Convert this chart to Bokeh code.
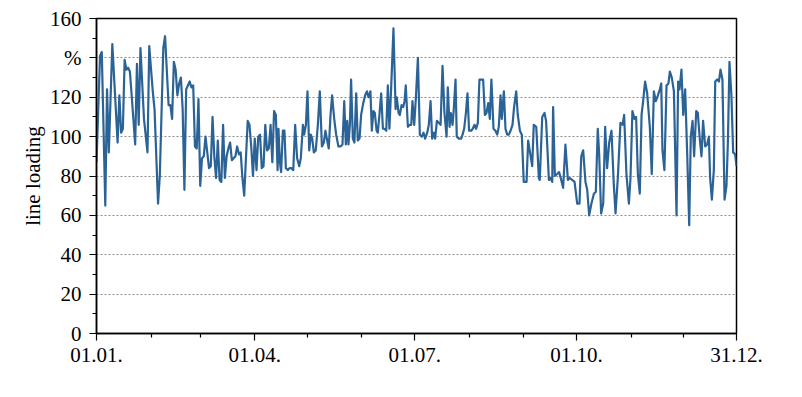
from bokeh.plotting import figure
from bokeh.models import Range1d, FixedTicker
from bokeh.embed import file_html
from bokeh.resources import INLINE

# day of year (0 = 01.01., 364 = 31.12.) and line loading in %
days = [0, 2, 3, 5, 6, 7, 9, 12, 13, 14, 15, 16, 17, 18, 19, 20, 22, 23, 24, 25, 27, 29, 30, 32, 33, 35, 36, 38, 39, 41, 42, 43, 44, 45, 46, 47, 48, 49, 50, 51,
        52, 53, 54, 55, 56, 57, 58, 59, 60, 61, 62, 63, 64, 65, 66, 67, 68, 69, 70, 71, 72, 73, 74, 75, 76, 77, 78, 79, 80, 81, 82, 83, 84, 85, 86, 87, 88, 89, 90, 91, 92, 93, 94, 95, 96, 97, 98, 99, 100, 101, 102, 103, 103.5,
        104.3, 105.0, 106.0, 106.9, 107.7, 108.8, 109.8, 110.7, 111.9, 113.0, 114.1, 115.3, 116.2, 117.4, 118.1, 119.1, 120.0, 121.0, 121.9, 122.7, 123.6, 124.7, 125.9, 127.0, 128.2, 129.3, 130.2, 131.2, 132.1, 133.1, 134.0, 135.2, 136.3, 137.6, 138.8, 139.9, 140.9, 141.8, 142.6, 143.3, 144.1, 144.8, 145.8, 146.7, 147.7, 148.6, 149.6, 150.5, 151.7, 152.8, 153.8, 154.7, 155.8,
        156.6, 157.5, 158.3, 159.3, 160.0, 161.0, 161.9, 162.9, 163.8, 164.8, 165.7, 166.6, 167.6, 168.9, 170.1, 170.8, 171.8, 172.5, 173.5, 174.4, 175.2, 175.9, 177.1, 178.2, 179.0, 179.7, 180.7, 181.6, 182.8, 183.9, 185.0, 186.0, 186.9, 188.1, 189.0, 190.0, 190.9, 191.9, 192.6, 193.6, 194.7, 195.7, 196.8, 197.9, 199.1, 199.8, 200.8, 201.5, 202.5, 203.2, 204.2, 204.9, 206.1, 207.4, 208.2,
        209.1, 210.1, 211.0, 211.9, 213.1, 214.0, 215.0, 215.9, 216.9, 217.8, 219.0, 219.9, 220.9, 221.8, 222.8, 223.7, 224.6, 225.8, 226.9, 227.9, 228.8, 229.8, 230.5, 231.7, 232.6, 233.6, 234.5, 235.5, 236.6, 237.5, 238.7, 239.6, 240.8, 241.9,
        243.0, 244.6, 245.5, 247.8, 248.7, 250.1, 251.6, 252.1, 253.5, 254.8, 255.7, 257.3, 258.2, 259.2, 259.7, 260.7, 262.0, 263.1, 264.3, 265.4, 266.7, 268.1, 269.2, 270.5, 271.9, 273.4, 274.7, 275.7, 276.8, 278.1, 279.1, 280.2, 281.5, 282.9, 284.0, 285.1, 285.9, 287.0, 288.2, 289.3, 290.4, 291.6, 292.9, 294.2, 295.2, 296.5, 298.0, 299.2, 300.1, 301.4, 302.8, 303.7, 304.8, 306.0, 306.9, 307.9, 309.0, 310.0, 310.9, 312.0, 313.2, 314.7, 315.8, 317.0, 318.1, 319.3, 320.4, 321.2, 321.9, 323.0, 324.2, 325.3, 326.1, 327.2, 328.4, 329.9, 330.8, 331.6, 332.7, 333.7, 334.8, 336.0, 337.1, 338.0, 339.0, 339.9, 341.1, 342.0, 343.1, 344.1, 345.0, 346.2, 347.3, 348.3, 349.0, 350.0, 351.1, 351.9, 353.0, 354.0, 354.9, 356.0, 357.2, 358.3, 359.1, 360.0, 361.1, 362.1, 363.2, 364.0]

loading = [87, 141, 143, 65, 124, 92, 147, 97, 121, 102, 104, 139, 134, 135, 133, 121, 96, 137, 106, 145, 109, 92, 146, 123, 114, 66, 80, 145, 151, 116, 116, 109, 138, 134, 121, 127, 130, 114, 73, 124,
           126, 128, 125, 126, 95, 94, 119, 75, 89, 90, 100, 92, 84, 85, 110, 90, 79, 98, 78, 77, 106, 79, 90, 94, 97, 88, 89, 90, 95, 91, 92, 79, 70, 89, 108, 106, 95, 80, 99, 83, 100, 101, 84, 85, 106, 93, 94, 106, 87, 113, 111, 83, 104,
           87, 82, 103, 103, 84, 83, 84, 84, 83, 106, 89, 85, 89, 106, 101, 106, 123, 93, 101, 99, 92, 93, 106, 123, 95, 97, 103, 98, 94, 111, 121, 109, 101, 95, 95, 96, 118, 96, 108, 96, 106, 129, 99, 97, 122, 98, 99, 111, 117, 121, 123, 120, 123,
           103, 113, 112, 103, 102, 112, 122, 104, 104, 103, 126, 104, 125, 155, 114, 120, 112, 111, 116, 115, 118, 126, 105, 106, 106, 118, 106, 119, 140, 101, 100, 102, 99, 102, 106, 118, 99, 102, 99, 108, 107, 106, 136, 112, 100, 125, 105, 112, 106, 114, 129, 100, 99, 99, 101,
           104, 112, 122, 103, 103, 104, 106, 104, 107, 129, 129, 129, 111, 112, 117, 109, 129, 104, 103, 101, 105, 121, 109, 123, 104, 101, 101, 103, 106, 115, 123, 111, 103, 101,
           77, 77, 98, 85, 106, 105, 79, 78, 110, 112, 108, 78, 79, 77, 115, 80, 81, 82, 78, 74, 96, 78, 79, 78, 77, 66, 66, 90, 93, 77, 73, 60, 66, 71, 72, 104, 91, 61, 66, 105, 84, 97, 103, 76, 61, 79, 107, 106, 111, 81, 66, 79, 113, 109, 110, 81, 71, 111, 118, 128, 122, 105, 81, 123, 118, 121, 124, 127, 93, 83, 126, 127, 133, 130, 123, 60, 128, 124, 134, 111, 124, 90, 55, 100, 108, 90, 113, 112, 99, 90, 108, 95, 96, 100, 79, 68, 83, 128, 129, 128, 134, 129, 68, 75, 97, 138, 121, 92, 91, 85]

x_ticks = [0, 90, 181, 273, 364]
x_tick_labels = ["01.01.", "01.04.", "01.07.", "01.10.", "31.12."]
x_minor = [31, 59, 120, 151, 212, 243, 304, 334]
y_ticks = [0, 20, 40, 60, 80, 100, 120, 140, 160]
y_tick_labels = ["0", "20", "40", "60", "80", "100", "120", "%", "160"]
y_minor = [10, 30, 50, 70, 90, 110, 130, 150]

FONT = "Liberation Serif"

p = figure(width=786, height=381, output_backend="svg", toolbar_location=None,
           x_range=Range1d(0, 364), y_range=Range1d(0, 160),
           min_border_left=96, min_border_right=50, min_border_top=18, min_border_bottom=48)

p.line(days, loading, line_color="#2c6396", line_width=2.2, line_join="round")

p.outline_line_color = "black"
p.outline_line_width = 1.5
p.outline_line_alpha = 1

p.xaxis.ticker = FixedTicker(ticks=x_ticks, minor_ticks=x_minor)
p.xaxis.major_label_overrides = {t: l for t, l in zip(x_ticks, x_tick_labels)}
p.yaxis.ticker = FixedTicker(ticks=y_ticks, minor_ticks=y_minor)
p.yaxis.major_label_overrides = {t: l for t, l in zip(y_ticks, y_tick_labels)}
p.yaxis.axis_label = "line loading"

for ax in (p.xaxis, p.yaxis):
    ax.axis_line_color = "black"
    ax.axis_line_width = 1.5
    ax.major_tick_line_color = "black"
    ax.minor_tick_line_color = "black"
    ax.major_tick_line_width = 1.2
    ax.minor_tick_line_width = 1.2
    ax.major_tick_in = 0
    ax.major_tick_out = 7
    ax.minor_tick_in = 0
    ax.minor_tick_out = 4
    ax.major_label_text_font = FONT
    ax.major_label_text_font_size = "21px"
    ax.major_label_text_color = "black"
    ax.axis_label_text_font = FONT
    ax.axis_label_text_font_size = "21px"
    ax.axis_label_text_font_style = "normal"
    ax.axis_label_text_color = "black"

p.yaxis.major_label_standoff = 8
p.yaxis.axis_label_standoff = 2
p.xaxis.major_label_standoff = 7

p.xgrid.visible = False
p.ygrid.ticker = FixedTicker(ticks=y_ticks)
p.ygrid.grid_line_color = "#8c8c8c"
p.ygrid.grid_line_dash = "2 2"
p.ygrid.grid_line_width = 1

p.background_fill_color = "white"
p.border_fill_color = "white"

open("out.html", "w").write(file_html(p, INLINE))
